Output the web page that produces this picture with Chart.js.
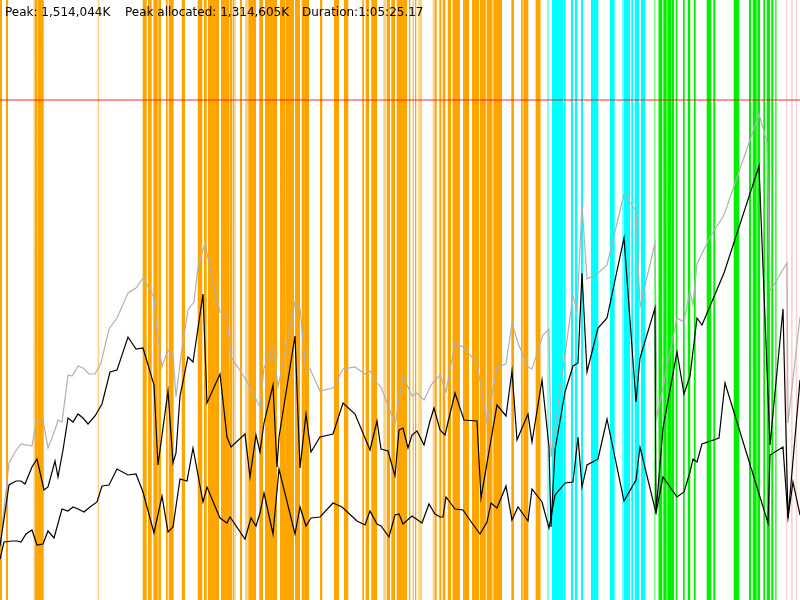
<!DOCTYPE html>
<html>
<head>
<meta charset="utf-8">
<script src="https://cdn.jsdelivr.net/npm/chart.js@4/dist/chart.umd.min.js"></script>
<style>
  html, body { margin: 0; padding: 0; background: #fff; }
  #wrap { position: relative; width: 800px; height: 600px; }
  #info span { position: absolute; top: 5px; font: 12px "DejaVu Sans", sans-serif; color: #000; white-space: nowrap; }
</style>
</head>
<body>
<div id="wrap">
  <canvas id="chart" width="800" height="600"></canvas>
  <div id="info">
    <span style="left:5px">Peak: 1,514,044K</span>
    <span style="left:125px">Peak allocated: 1,314,605K</span>
    <span style="left:302px">Duration:1:05:25.17</span>
  </div>
</div>
<script>
// time axis 0..800, memory axis 0..600 (arbitrary units)
const X_MAX = 800;
const Y_MAX = 600;
const peakLevel = 500;

// activity bands [start, end] on the time axis
const orangeBands = [[0,2],[6,8],[34.7,37],[37.7,43.7],[142.7,146.7],[148,151.7],[153.3,157.7],[158.3,161],
  [166,167.7],[168.7,173.7],[181.7,185],[197.7,202.3],[204,206.7],[208,219],[221,229],[230,232],[233,234],
  [240,242],[248.3,256],[259.3,263],[265,277],[280,285],[285.7,294],[295,300],[301.7,309],[320,322.3],
  [334,339],[344,348.3],[362.3,364],[365.7,369],[371.3,377],[386.7,390],[391.3,395],[396.7,407],[409,410.3],
  [412.7,413.7],[415,416.3],[435,436.7],[439.3,441.3],[442.7,445.3],[447.7,451],[453,460],[463,469],
  [472,479.2],[480,485.8],[486.6,492.5],[493.3,502],[511.3,514],[521,522.7],[523.3,528.3],[535.7,540]];
const orangeThin = [[33.3,34.6],[97.7,99.3],[229.3,230],[232.3,233],[234.3,236],[245,248],[383.3,386],
  [418.3,422],[432.7,435],[452,453],[540,541.3]];
const cyanBands = [[551.7,563.3],[564,565.7],[571,573],[575,577.3],[581,583],[591,598.3],[610,614.7],
  [624,630],[631.3,633],[634.7,639],[641,645.7]];
const cyanThin = [[547,549],[622,624]];
const greenBands = [[658.3,662.3],[663.3,666.7],[667.3,671],[671.7,674],[675.7,677.3],[683,684.7],
  [687.7,690.3],[694,695.7],[706.7,711.3],[713.3,715.3],[733.7,739.3],[749,751],[752.7,756.7],[757.3,760],
  [763.3,765],[766.7,770],[771.3,773.3],[775.3,776.7]];
const greenThin = [[653.7,655.7]];
const pinkBands = [[785.7,787.3],[791,792.7],[795.7,797.3]];

// total heap (grey)
const totalX = [0,9,15,21,32,36,43,48,55,58,62,68,72,78,83,89,95,101,109,117,128,136,143,154,157,162,168,173,176,
  182,188,194,198,205,213,220,227,231,245,260,264,273,278,295,300,306,310,320,333,343,355,365,370,377,381,395,
  403,412,417,424,431,440,446,455,463,477,487,497,506,512,518,528,532,543,549,551,573,577,582,587,598,607,624,
  636,640,655,657,677,684,690,693,697,710,724,759,767,770,787,788,800];
const totalY = [54,137,148,156,154,177,180,152,170,180,178,225,224,234,232,226,226,237,271,282,307,312,322,303,270,
  233,250,245,203,252,290,298,333,357,317,288,283,243,222,193,232,254,213,298,292,228,231,209,212,231,233,226,229,
  217,213,176,224,204,207,200,215,225,208,257,253,237,177,233,236,277,257,233,231,265,271,143,304,290,395,321,327,
  335,406,389,293,357,183,282,278,309,295,336,363,385,486,458,309,337,177,283];

// used heap (black, middle)
const usedX = [0,9,16,21,25,32,37,44,48,55,58,63,68,73,78,83,88,95,102,110,117,128,136,143,154,158,168,173,176,180,
  188,193,203,207,220,227,231,245,250,256,260,264,273,277,279,295,300,306,311,320,333,343,355,370,377,381,388,395,
  399,403,408,412,417,424,430,434,440,445,455,464,477,481,497,506,512,517,528,532,542,549,551,555,565,573,578,582,
  587,598,607,624,636,640,655,656,663,677,684,690,697,702,724,759,770,783,788,800];
const usedY = [54,115,119,119,116,133,141,110,113,139,123,150,182,178,186,182,176,184,196,228,230,263,251,252,215,135,
  209,137,147,204,243,238,306,197,226,163,153,166,123,165,148,177,215,133,163,264,132,186,148,163,166,197,186,150,179,
  151,149,124,170,172,152,165,169,155,179,192,170,165,207,180,179,102,195,184,229,160,186,158,220,153,73,150,208,234,
  237,327,228,272,282,362,198,242,292,87,172,248,206,224,282,275,327,434,155,291,82,220];

// live data (black, lower)
const liveX = [0,4,12,17,21,26,32,37,43,48,54,62,68,73,78,84,90,97,102,109,117,128,136,143,154,162,168,173,180,187,
  193,203,207,220,227,230,245,251,256,260,264,273,279,295,300,306,311,320,333,342,357,365,370,377,381,389,395,399,403,
  412,422,429,435,440,443,446,455,463,472,480,487,491,497,506,512,518,528,532,542,549,555,565,573,578,582,587,598,607,
  624,636,640,656,663,677,684,690,693,697,702,719,725,768,770,783,788,793,800];
const liveY = [41,58,59,59,58,66,70,55,56,69,62,91,89,93,91,88,93,98,114,115,131,125,126,108,67,104,68,73,121,119,152,
  98,113,82,77,83,61,82,74,87,107,66,131,66,93,74,82,83,97,93,79,75,89,76,74,63,85,86,76,84,77,96,86,83,83,103,91,90,
  77,66,78,97,92,114,80,93,79,111,98,72,105,117,118,163,113,135,141,181,99,120,153,87,123,103,108,128,141,138,156,162,
  217,77,145,153,82,118,85];

function toPoints(xs, ys) {
  return xs.map((x, i) => ({ x: x, y: ys[i] }));
}

// square wave so the fill makes one rectangle per band
function bandPoints(bands) {
  const out = [];
  bands.forEach(([a, b]) => {
    out.push({ x: a, y: 0 }, { x: a, y: Y_MAX }, { x: b, y: Y_MAX }, { x: b, y: 0 });
  });
  return out;
}

function bandSet(bands, color) {
  return {
    data: bandPoints(bands),
    backgroundColor: color,
    borderColor: 'rgba(0,0,0,0)',
    borderWidth: 0,
    fill: 'origin',
    order: 5
  };
}

function lineSet(xs, ys, color, width) {
  return {
    data: toPoints(xs, ys),
    borderColor: color,
    borderWidth: width,
    fill: false,
    order: 1
  };
}

new Chart(document.getElementById('chart'), {
  type: 'line',
  data: {
    datasets: [
      lineSet(liveX, liveY, '#000000', 1.2),
      lineSet(usedX, usedY, '#000000', 1.2),
      lineSet(totalX, totalY, '#b0b0b0', 1.2),
      {
        data: [{ x: 0, y: peakLevel }, { x: X_MAX, y: peakLevel }],
        borderColor: 'rgba(255,0,0,0.55)',
        borderWidth: 1.6,
        fill: false,
        order: 2
      },
      bandSet(orangeBands, '#ffa500'),
      bandSet(orangeThin, 'rgba(255,165,0,0.5)'),
      bandSet(cyanBands, '#00ffff'),
      bandSet(cyanThin, 'rgba(0,255,255,0.5)'),
      bandSet(greenBands, '#00f000'),
      bandSet(greenThin, 'rgba(0,240,0,0.5)'),
      bandSet(pinkBands, 'rgba(255,175,175,0.55)')
    ]
  },
  options: {
    responsive: false,
    animation: false,
    devicePixelRatio: 1,
    layout: { padding: 0 },
    elements: { point: { radius: 0 }, line: { tension: 0 } },
    plugins: { legend: { display: false }, tooltip: { enabled: false } },
    scales: {
      x: { type: 'linear', min: 0, max: X_MAX, display: false },
      y: { min: 0, max: Y_MAX, display: false }
    }
  }
});
</script>
</body>
</html>
